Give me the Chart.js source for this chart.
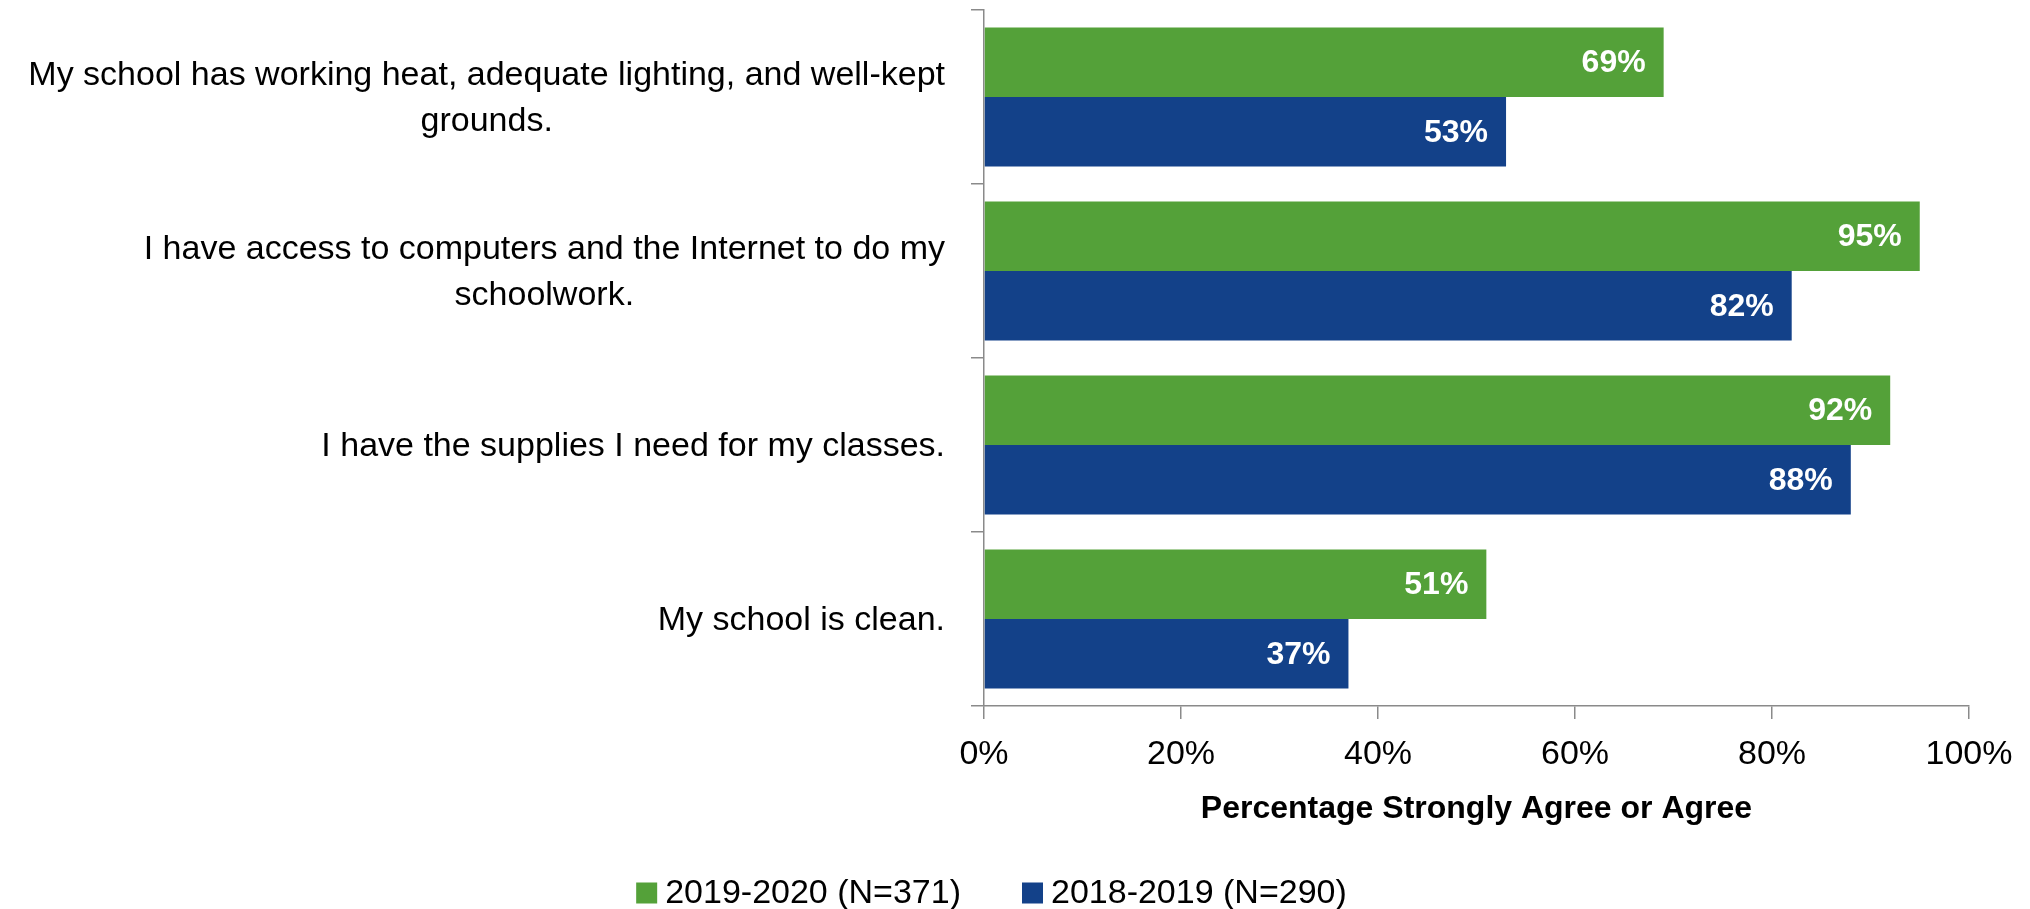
<!DOCTYPE html>
<html>
<head>
<meta charset="utf-8">
<script src="https://cdn.jsdelivr.net/npm/chart.js@4.4.1/dist/chart.umd.min.js"></script>
<style>
  html, body { margin: 0; padding: 0; background: #fff; overflow: hidden; }
  #wrap { width: 2030px; height: 909px; }
</style>
</head>
<body>
<div id="wrap"><canvas id="facilitiesChart"></canvas></div>
<script>
// survey items, one array of lines per category
const categories = [
  ["My school has working heat, adequate lighting, and well-kept", "grounds."],
  ["I have access to computers and the Internet to do my", "schoolwork."],
  ["I have the supplies I need for my classes."],
  ["My school is clean."]
];
const seriesNames = ["2019-2020 (N=371)", "2018-2019 (N=290)"];
const values2020 = [69, 95, 92, 51];
const values2019 = [53, 82, 88, 37];
const xTicks = [0, 20, 40, 60, 80, 100];

const FONT = "'Liberation Sans', Arial, sans-serif";
const GREEN = "#54a139";
const BLUE = "#134189";
const AXIS = "#8a8a8a";

// category labels: block right-aligned to the axis, lines centred in the block
const categoryLabels = {
  id: "categoryLabels",
  afterDraw(chart) {
    const ctx = chart.ctx;
    const yScale = chart.scales.y;
    const right = chart.chartArea.left - 39;
    const lineGap = 46;
    ctx.save();
    ctx.font = "34px " + FONT;
    ctx.fillStyle = "#000";
    ctx.textAlign = "center";
    ctx.textBaseline = "middle";
    categories.forEach((lines, i) => {
      const yc = yScale.getPixelForValue(i) + 2;
      const w = Math.max(...lines.map(l => ctx.measureText(l).width));
      const x = right - w / 2;
      const y0 = yc - (lines.length - 1) * lineGap / 2;
      lines.forEach((l, j) => ctx.fillText(l, x, y0 + j * lineGap));
    });
    ctx.restore();
  }
};

// value labels inside the bar ends
const valueLabels = {
  id: "valueLabels",
  afterDatasetsDraw(chart) {
    const ctx = chart.ctx;
    ctx.save();
    ctx.font = "bold 32px " + FONT;
    ctx.fillStyle = "#fff";
    ctx.textAlign = "right";
    ctx.textBaseline = "middle";
    chart.data.datasets.forEach((ds, di) => {
      chart.getDatasetMeta(di).data.forEach((bar, i) => {
        ctx.fillText(ds.data[i] + "%", bar.x - 18, bar.y + 1);
      });
    });
    ctx.restore();
  }
};

// legend row at the bottom
const bottomLegend = {
  id: "bottomLegend",
  afterDraw(chart) {
    const ctx = chart.ctx;
    const box = 21, gap = 8, itemGap = 61, y = 893;
    ctx.save();
    ctx.font = "34px " + FONT;
    ctx.textBaseline = "middle";
    ctx.textAlign = "left";
    const ds = chart.data.datasets;
    const widths = ds.map(d => ctx.measureText(d.label).width);
    const total = widths.reduce((a, w) => a + box + gap + w, 0) + itemGap * (ds.length - 1);
    let x = 991.5 - total / 2;
    ds.forEach((d, i) => {
      ctx.fillStyle = d.backgroundColor;
      ctx.fillRect(x, y - box / 2, box, box);
      ctx.fillStyle = "#000";
      ctx.fillText(d.label, x + box + gap, y + 1);
      x += box + gap + widths[i] + itemGap;
    });
    ctx.restore();
  }
};

new Chart(document.getElementById("facilitiesChart"), {
  type: "bar",
  data: {
    labels: categories,
    datasets: [
      { label: seriesNames[0], data: values2020, backgroundColor: GREEN },
      { label: seriesNames[1], data: values2019, backgroundColor: BLUE }
    ]
  },
  options: {
    indexAxis: "y",
    responsive: true,
    maintainAspectRatio: false,
    devicePixelRatio: 1,
    animation: false,
    layout: { padding: { top: 10, right: 61, bottom: 69, left: 0 } },
    datasets: { bar: { categoryPercentage: 0.8, barPercentage: 1.0, borderWidth: 0 } },
    plugins: {
      legend: { display: false },
      tooltip: { enabled: false }
    },
    scales: {
      x: {
        min: 0,
        max: 100,
        afterBuildTicks: scale => { scale.ticks = xTicks.map(v => ({ value: v })); },
        afterFit: scale => { scale.height = 134; },
        grid: { display: true, drawOnChartArea: false, drawTicks: true, tickLength: 13, color: AXIS, lineWidth: 1.5 },
        border: { display: true, color: AXIS, width: 1.5 },
        ticks: {
          padding: 15,
          color: "#000",
          font: { family: FONT, size: 34 },
          maxRotation: 0,
          callback: v => v + "%"
        },
        title: {
          display: true,
          text: "Percentage Strongly Agree or Agree",
          color: "#000",
          font: { family: FONT, size: 32, weight: "bold" },
          padding: { top: 0, bottom: 12 }
        }
      },
      y: {
        afterFit: scale => { scale.width = 984; },
        grid: { display: true, drawOnChartArea: false, drawTicks: true, tickLength: 13, color: AXIS, lineWidth: 1.5 },
        border: { display: true, color: AXIS, width: 1.5 },
        ticks: { display: false }
      }
    }
  },
  plugins: [categoryLabels, valueLabels, bottomLegend]
});
</script>
</body>
</html>
